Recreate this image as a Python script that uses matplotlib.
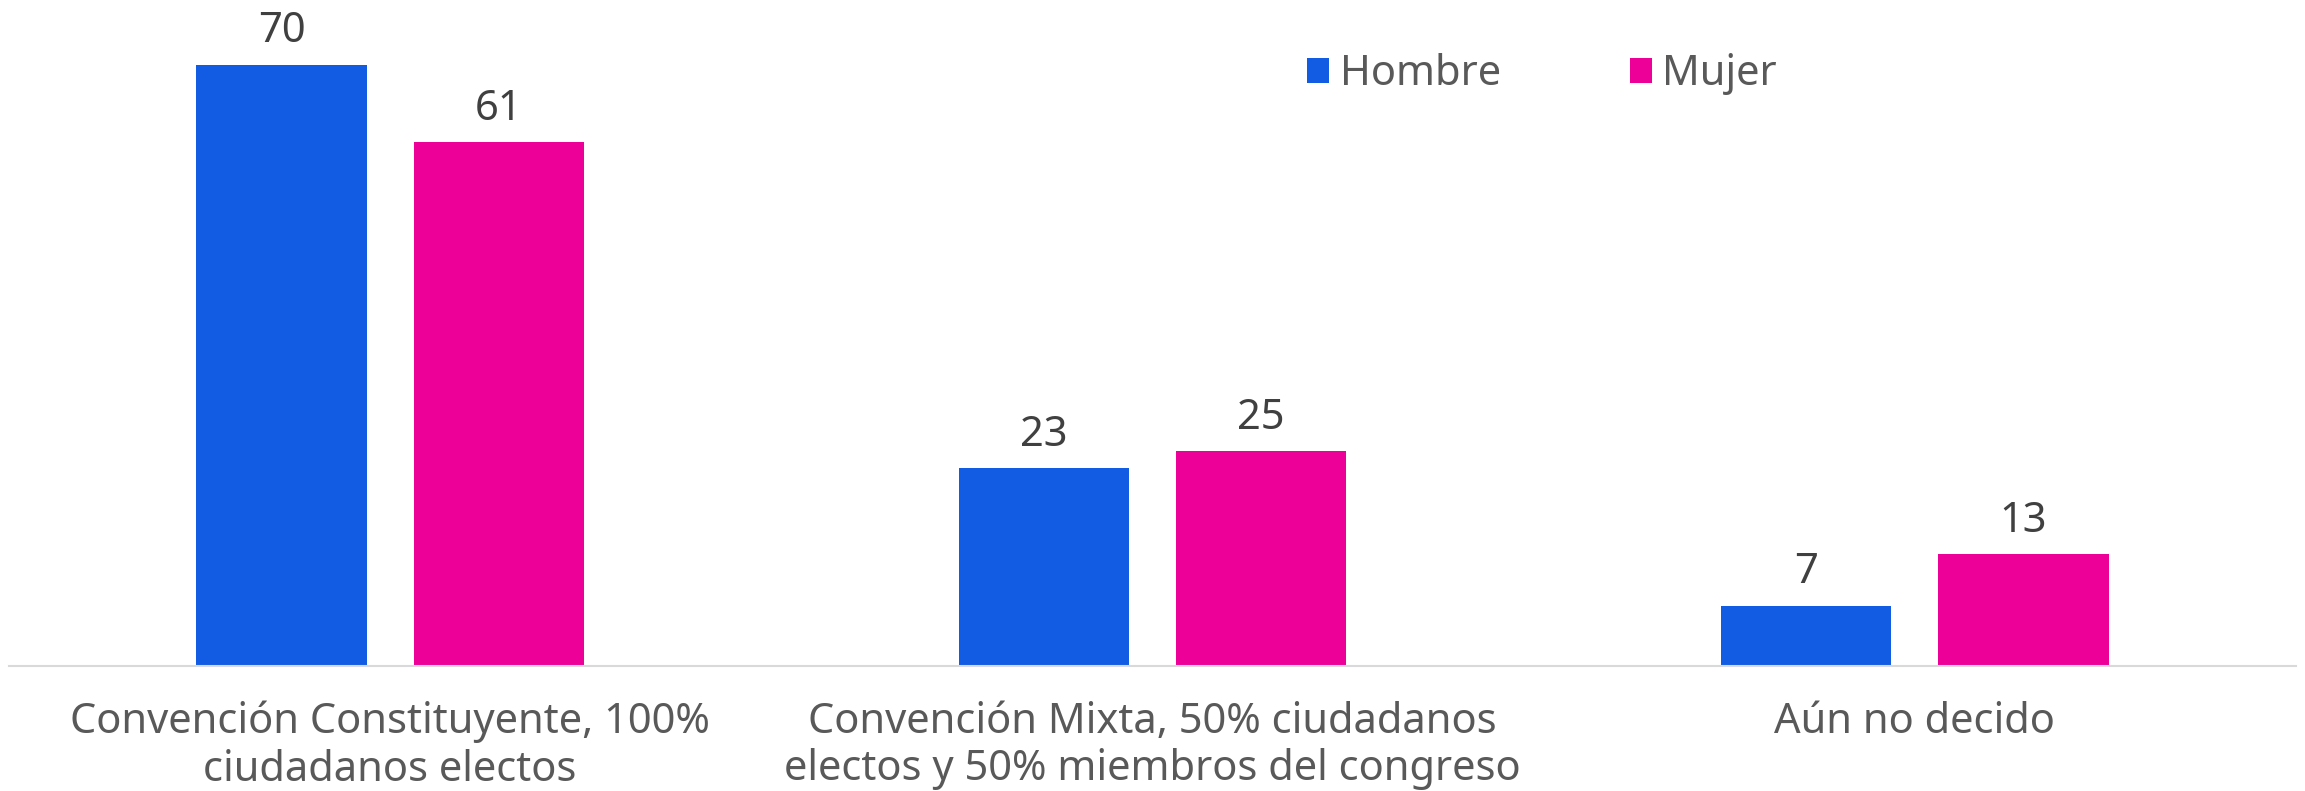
import matplotlib
matplotlib.use("Agg")
import matplotlib.pyplot as plt
import numpy as np

# data
categories = ["Convención Constituyente, 100%\nciudadanos electos",
              "Convención Mixta, 50% ciudadanos\nelectos y 50% miembros del congreso",
              "Aún no decido"]
hombre = [70, 23, 7]
mujer = [61, 25, 13]
series_names = ["Hombre", "Mujer"]

blue = "#115CE3"
pink = "#EC0098"

plt.rcParams['font.family'] = ['Noto Sans', 'DejaVu Sans']

W, H = 2305, 791
fig = plt.figure(figsize=(W / 100, H / 100), dpi=100)
ax = fig.add_axes([9 / W, (H - 666) / H, (2296 - 9) / W, (666 - 64.7) / H])

x = np.arange(len(categories))
width = 0.2236
off = 0.1426

b1 = ax.bar(x - off, hombre, width, color=blue, label=series_names[0])
b2 = ax.bar(x + off, mujer, width, color=pink, label=series_names[1])

for bars in (b1, b2):
    for rect in bars:
        h = rect.get_height()
        ax.annotate(str(h), (rect.get_x() + rect.get_width() / 2, h),
                    xytext=(0, 9), textcoords="offset points",
                    ha="center", va="bottom", fontsize=30, color="#404040",
                    annotation_clip=False)

ax.set_xlim(-0.5, 2.5)
ax.set_ylim(0, 70)
ax.set_yticks([])
ax.set_xticks(x)
ax.set_xticklabels(categories, fontsize=30, color="#595959", linespacing=1.17)
ax.tick_params(axis="x", length=0, pad=25)
for s in ["top", "right", "left"]:
    ax.spines[s].set_visible(False)
ax.spines["bottom"].set_color("#d9d9d9")
ax.spines["bottom"].set_linewidth(1.5)

leg = fig.legend(handles=[b1, b2], labels=series_names, ncol=2, frameon=False,
                 loc="center", bbox_to_anchor=(1542 / W, 1 - 74 / H),
                 fontsize=30, labelcolor="#595959", handlelength=0.53,
                 handleheight=0.53, handletextpad=0.25, columnspacing=3.1)

fig.savefig("out.png", dpi=100, facecolor="white")
